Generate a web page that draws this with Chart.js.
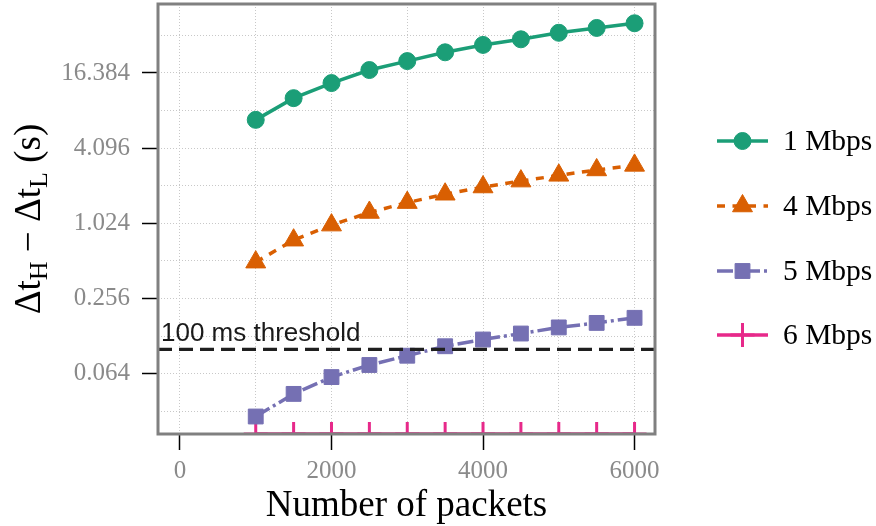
<!DOCTYPE html>
<html lang="en">
<head>
<meta charset="UTF-8">
<title>Delta t vs number of packets</title>
<script src="https://cdn.jsdelivr.net/npm/chart.js@4/dist/chart.umd.min.js"></script>
<style>
  html, body { margin: 0; padding: 0; background: #fff; }
  #wrap { width: 876px; height: 526px; }
</style>
</head>
<body>
<div id="wrap"><canvas id="myChart" width="876" height="526"></canvas></div>
<script>
// values (seconds, log2 y axis)
const packets = [1000, 1500, 2000, 2500, 3000, 3500, 4000, 4500, 5000, 5500, 6000];
const mbps1 = [6.9, 10.3, 13.6, 17.3, 20.4, 24.0, 27.5, 30.5, 34.4, 37.6, 41.0];
const mbps4 = [0.50, 0.75, 0.99, 1.25, 1.50, 1.75, 2.00, 2.23, 2.48, 2.74, 2.98];
const mbps5 = [0.029, 0.044, 0.060, 0.075, 0.089, 0.106, 0.120, 0.134, 0.150, 0.163, 0.179];
const mbps6 = [0.021, 0.021, 0.021, 0.021, 0.021, 0.021, 0.021, 0.021, 0.021, 0.021, 0.021];
const seriesLabels = ['1 Mbps', '4 Mbps', '5 Mbps', '6 Mbps'];

const threshold = 0.1;
const thresholdLabel = '100 ms threshold';

// tick labels and the extra (unlabelled) grid lines
const xTicks = [0, 2000, 4000, 6000];
const xMinor = [1000, 3000, 5000];
const yTicks = [0.064, 0.256, 1.024, 4.096, 16.384];
const yMinor = [0.032, 0.128, 0.512, 2.048, 8.192, 32.768];

const xTitle = 'Number of packets';

const SERIF = '"Liberation Serif", "Times New Roman", serif';
const SANS = '"Liberation Sans", Arial, sans-serif';

const toXY = vals => packets.map((p, i) => ({ x: p, y: vals[i] }));

// same geometry as Chart.js point styles, used for the hand drawn legend
function drawMarker(ctx, style, x, y, r, lw) {
  ctx.beginPath();
  if (style === 'circle') {
    ctx.arc(x, y, r, 0, Math.PI * 2);
    ctx.fill();
  } else if (style === 'triangle') {
    ctx.moveTo(x, y - r);
    ctx.lineTo(x - r * Math.sin(Math.PI / 3), y + r / 2);
    ctx.lineTo(x + r * Math.sin(Math.PI / 3), y + r / 2);
    ctx.closePath();
    ctx.fill();
  } else if (style === 'rect') {
    const s = Math.SQRT1_2 * r;
    ctx.rect(x - s, y - s, 2 * s, 2 * s);
    ctx.fill();
  } else if (style === 'cross') {
    ctx.moveTo(x, y - r); ctx.lineTo(x, y + r);
    ctx.moveTo(x - r, y); ctx.lineTo(x + r, y);
  }
  ctx.lineWidth = lw;
  ctx.stroke();
}

const decorations = {
  id: 'decorations',
  afterDatasetsDraw(chart) {
    const { ctx, chartArea: a, scales } = chart;
    const ty = scales.y.getPixelForValue(threshold);
    ctx.save();
    // threshold line + label
    ctx.strokeStyle = '#1f1f1f';
    ctx.lineWidth = 3.3;
    ctx.setLineDash([14, 7]);
    ctx.beginPath();
    ctx.moveTo(a.left, ty);
    ctx.lineTo(a.right, ty);
    ctx.stroke();
    ctx.setLineDash([]);
    ctx.fillStyle = '#1a1a1a';
    ctx.font = '26px ' + SANS;
    ctx.textBaseline = 'alphabetic';
    ctx.fillText(thresholdLabel, a.left + 3, ty - 8);
    // grey frame round the plot
    ctx.strokeStyle = '#808080';
    ctx.lineWidth = 3;
    ctx.strokeRect(a.left, a.top, a.right - a.left, a.bottom - a.top);
    ctx.restore();
  },
  afterDraw(chart) {
    const { ctx, chartArea: a } = chart;
    ctx.save();
    // y axis title with subscripts
    const parts = [['Δt', 37, 0], ['H', 26, 7], [' − Δt', 37, 0], ['L', 26, 7], [' (s)', 37, 0]];
    ctx.translate(28, (a.top + a.bottom) / 2);
    ctx.rotate(-Math.PI / 2);
    ctx.fillStyle = '#000';
    ctx.textBaseline = 'alphabetic';
    let total = 0;
    parts.forEach(p => { ctx.font = p[1] + 'px ' + SERIF; p.w = ctx.measureText(p[0]).width; total += p.w; });
    let x = -total / 2;
    parts.forEach(p => {
      ctx.font = p[1] + 'px ' + SERIF;
      ctx.fillText(p[0], x, 12 + p[2]);
      x += p.w;
    });
    ctx.restore();

    // legend on the right
    const rows = [141, 206, 271, 335];
    chart.data.datasets.forEach((ds, i) => {
      const y = rows[i];
      ctx.save();
      ctx.strokeStyle = ds.borderColor;
      ctx.fillStyle = ds.borderColor;
      ctx.lineWidth = ds.borderWidth;
      ctx.setLineDash(ds.borderDash || []);
      ctx.beginPath();
      ctx.moveTo(717, y);
      ctx.lineTo(768, y);
      ctx.stroke();
      ctx.setLineDash([]);
      drawMarker(ctx, ds.pointStyle, 742.5, y, ds.pointRadius, ds.pointBorderWidth);
      ctx.fillStyle = '#000';
      ctx.font = '29.5px ' + SERIF;
      ctx.textBaseline = 'middle';
      ctx.fillText(ds.label, 783, y + 1);
      ctx.restore();
    });
  }
};

const gridColor = '#c8c8c8';
// minor ticks get a tiny font so their empty labels take no room
const tickFont = list => c => ({ family: SERIF, size: (c.tick && list.includes(c.tick.value)) ? 25 : 1 });

const ctx = document.getElementById('myChart').getContext('2d');
const myChart = new Chart(ctx, {
  type: 'line',
  data: {
    datasets: [
      {
        label: seriesLabels[0], data: toXY(mbps1),
        borderColor: '#1b9e77', backgroundColor: '#1b9e77', borderWidth: 3.5,
        pointStyle: 'circle', pointRadius: 8.5, pointBorderWidth: 1,
        pointBackgroundColor: '#1b9e77', pointBorderColor: '#1b9e77'
      },
      {
        label: seriesLabels[1], data: toXY(mbps4),
        borderColor: '#d95f02', backgroundColor: '#d95f02', borderWidth: 3.5, borderDash: [8, 7.5],
        pointStyle: 'triangle', pointRadius: 11.5, pointBorderWidth: 1,
        pointBackgroundColor: '#d95f02', pointBorderColor: '#d95f02'
      },
      {
        label: seriesLabels[2], data: toXY(mbps5),
        borderColor: '#7570b3', backgroundColor: '#7570b3', borderWidth: 3.5, borderDash: [16, 4, 3, 4],
        pointStyle: 'rect', pointRadius: 10.5, pointBorderWidth: 1,
        pointBackgroundColor: '#7570b3', pointBorderColor: '#7570b3'
      },
      {
        label: seriesLabels[3], data: toXY(mbps6),
        borderColor: '#e7298a', backgroundColor: '#e7298a', borderWidth: 3.5,
        pointStyle: 'cross', pointRadius: 12, pointBorderWidth: 3,
        pointBackgroundColor: '#e7298a', pointBorderColor: '#e7298a'
      }
    ]
  },
  options: {
    responsive: false,
    animation: false,
    layout: { autoPadding: false, padding: { top: 4, right: 221, left: 0, bottom: 0 } },
    plugins: {
      legend: { display: false },
      tooltip: { enabled: false }
    },
    elements: { line: { tension: 0 } },
    scales: {
      x: {
        type: 'linear',
        min: -290,
        max: 6270,
        afterBuildTicks: s => { s.ticks = xTicks.concat(xMinor).sort((a, b) => a - b).map(v => ({ value: v })); },
        afterFit: s => { s.height = 92; },
        ticks: {
          autoSkip: false, maxRotation: 0, padding: 6,
          color: '#8a8a8a', font: tickFont(xTicks),
          callback: v => xTicks.includes(v) ? String(v) : ''
        },
        grid: {
          color: gridColor, lineWidth: 1, tickLength: 16, tickWidth: 1.5,
          tickColor: c => (c.tick && xTicks.includes(c.tick.value)) ? '#000' : 'rgba(0,0,0,0)',
          borderDash: [1, 2]
        },
        border: { display: false, dash: [1, 2] },
        title: {
          display: true, text: xTitle, color: '#000',
          font: { family: SERIF, size: 37, lineHeight: 1.05 }, padding: { top: 0, bottom: 0 }
        }
      },
      y: {
        type: 'logarithmic',
        min: 0.021,
        max: 58.5,
        afterBuildTicks: s => { s.ticks = yTicks.concat(yMinor).sort((a, b) => a - b).map(v => ({ value: v })); },
        afterFit: s => { s.width = 158; s.paddingTop = 0; s.paddingBottom = 0; },
        ticks: {
          autoSkip: false, padding: 12,
          color: '#8a8a8a', font: tickFont(yTicks),
          callback: v => yTicks.includes(v) ? v.toFixed(3) : ''
        },
        grid: {
          color: gridColor, lineWidth: 1, tickLength: 16, tickWidth: 1.5,
          tickColor: c => (c.tick && yTicks.includes(c.tick.value)) ? '#000' : 'rgba(0,0,0,0)',
          borderDash: [1, 2]
        },
        border: { display: false, dash: [1, 2] }
      }
    }
  },
  plugins: [decorations]
});
</script>
</body>
</html>
